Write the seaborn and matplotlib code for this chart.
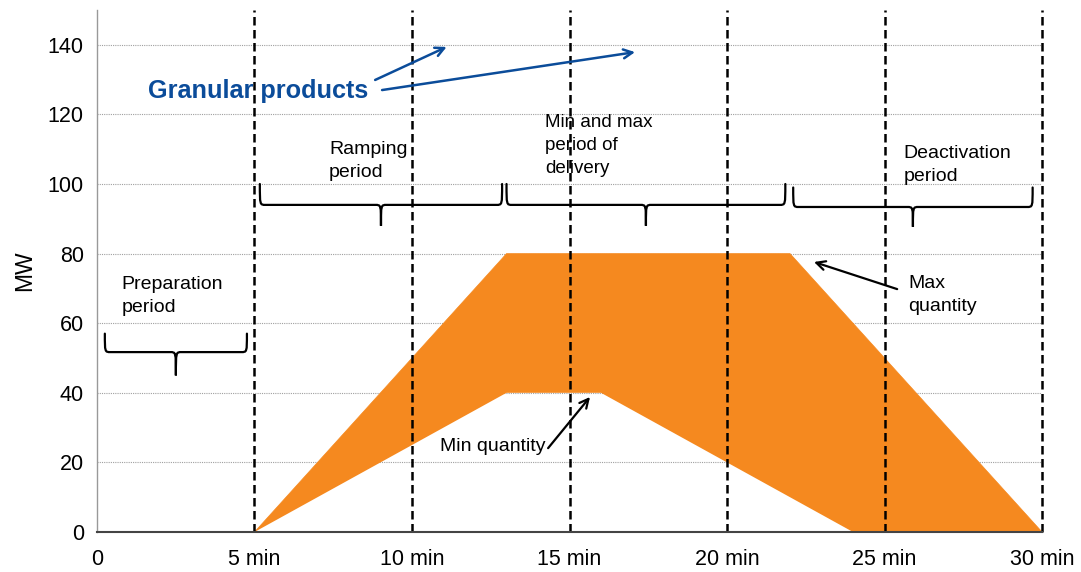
import matplotlib
matplotlib.use("Agg")
import matplotlib.pyplot as plt
from matplotlib.path import Path
from matplotlib.patches import PathPatch
import seaborn as sns
import pandas as pd

# ---- data ----
max_time = [5, 13, 22, 30]
max_mw = [0, 80, 80, 0]
min_time = [5, 13, 16, 24, 30]
min_mw = [0, 40, 40, 0, 0]
period_marks = [5, 10, 15, 20, 25, 30]
x_ticks = [0, 5, 10, 15, 20, 25, 30]
x_labels = ["0", "5 min", "10 min", "15 min", "20 min", "25 min", "30 min"]
y_ticks = [0, 20, 40, 60, 80, 100, 120, 140]

sns.set_style("white")
fam = ["Liberation Sans", "DejaVu Sans"]
plt.rcParams["font.family"] = fam
plt.rcParams["text.color"] = "black"

ORANGE = "#F5891F"
BLUE = "#0B4C9A"

fig = plt.figure(figsize=(10.81, 5.72), dpi=100)
ax = fig.add_axes([0.0897, 0.0699, 0.964 - 0.0897, 0.9825 - 0.0699])

# grid
for y in y_ticks[1:]:
    ax.axhline(y, color="#a0a0a0", lw=0.8, ls=(0, (1, 1)), zorder=1)

# filled band between min and max quantity
poly_x = list(max_time) + list(reversed(min_time))
poly_y = list(max_mw) + list(reversed(min_mw))
ax.fill(poly_x, poly_y, color=ORANGE, lw=0, zorder=2)
df_max = pd.DataFrame({"t": max_time, "mw": max_mw})
sns.lineplot(data=df_max, x="t", y="mw", ax=ax, color=ORANGE, lw=0.5, zorder=2)

# dashed period marks
for xm in period_marks:
    ax.axvline(xm, color="black", lw=1.8, ls=(0, (3.4, 1.8)), zorder=4,
               clip_on=False)

ax.set_xlim(0, 30)
ax.set_ylim(0, 150)
ax.set_xticks(x_ticks)
ax.set_xticklabels(x_labels)
ax.set_yticks(y_ticks)
ax.tick_params(axis="both", labelsize=15.5, labelcolor="black", length=6,
               direction="out", width=0.8, color="#888888")
ax.tick_params(axis="x", pad=6)
ax.set_xlabel("")
ax.set_ylabel("MW", fontsize=16.5, labelpad=8, color="black")

for s in ["top", "right"]:
    ax.spines[s].set_visible(False)
ax.spines["left"].set_color("#999999")
ax.spines["left"].set_linewidth(1.0)
ax.spines["bottom"].set_color("#444444")
ax.spines["bottom"].set_linewidth(1.5)
ax.spines["left"].set_zorder(5)
ax.spines["bottom"].set_zorder(5)


def brace(x0, x1, y_end, y_mid, y_tip, r=0.18):
    xm = (x0 + x1) / 2
    verts = [
        (x0, y_end),
        (x0, y_mid), (x0, y_mid), (x0 + r, y_mid),
        (xm - r, y_mid),
        (xm, y_mid), (xm, y_mid), (xm, y_tip),
        (xm, y_mid), (xm, y_mid), (xm + r, y_mid),
        (x1 - r, y_mid),
        (x1, y_mid), (x1, y_mid), (x1, y_end),
    ]
    codes = [Path.MOVETO,
             Path.CURVE4, Path.CURVE4, Path.CURVE4,
             Path.LINETO,
             Path.CURVE4, Path.CURVE4, Path.CURVE4,
             Path.CURVE4, Path.CURVE4, Path.CURVE4,
             Path.LINETO,
             Path.CURVE4, Path.CURVE4, Path.CURVE4]
    ax.add_patch(PathPatch(Path(verts, codes), fill=False, lw=1.6,
                           ec="black", zorder=6, capstyle="round"))


brace(0.25, 4.76, 57, 51.7, 45)
brace(5.17, 12.86, 100, 94, 88)
brace(13.0, 21.85, 100, 94, 88)
brace(22.1, 29.7, 99, 93.4, 87.7)

tfs = 14
ls = 1.45
ax.text(0.79, 67.8, "Preparation\nperiod", fontsize=tfs, va="center", ha="left",
        linespacing=ls, zorder=7)
ax.text(7.37, 106.6, "Ramping\nperiod", fontsize=tfs, va="center", ha="left",
        linespacing=ls, zorder=7)
ax.text(14.22, 111, "Min and max\nperiod of\ndelivery", fontsize=13.5, va="center",
        ha="left", linespacing=ls, zorder=7)
ax.text(25.6, 105.5, "Deactivation\nperiod", fontsize=tfs, va="center", ha="left",
        linespacing=ls, zorder=7)
ax.text(25.75, 68.1, "Max\nquantity", fontsize=tfs, va="center", ha="left",
        linespacing=ls, zorder=7)
ax.text(10.89, 24.7, "Min quantity", fontsize=tfs, va="center", ha="left",
        zorder=7)
ax.text(1.62, 126.7, "Granular products", fontsize=18.2, fontweight="bold",
        color=BLUE, va="center", ha="left", zorder=7)

arrow_k = dict(arrowstyle="->", color="black", lw=1.6, mutation_scale=16,
               shrinkA=0, shrinkB=0)
ax.annotate("", xy=(15.65, 38.8), xytext=(14.32, 24.1), arrowprops=arrow_k, zorder=7)
ax.annotate("", xy=(22.76, 77.6), xytext=(25.4, 69.8), arrowprops=arrow_k, zorder=7)
arrow_b = dict(arrowstyle="->", color=BLUE, lw=1.8, mutation_scale=16,
               shrinkA=0, shrinkB=0)
ax.annotate("", xy=(11.1, 139.4), xytext=(8.83, 129.9), arrowprops=arrow_b, zorder=7)
ax.annotate("", xy=(17.08, 137.9), xytext=(9.05, 127.0), arrowprops=arrow_b, zorder=7)

fig.savefig("out.png", dpi=100)
